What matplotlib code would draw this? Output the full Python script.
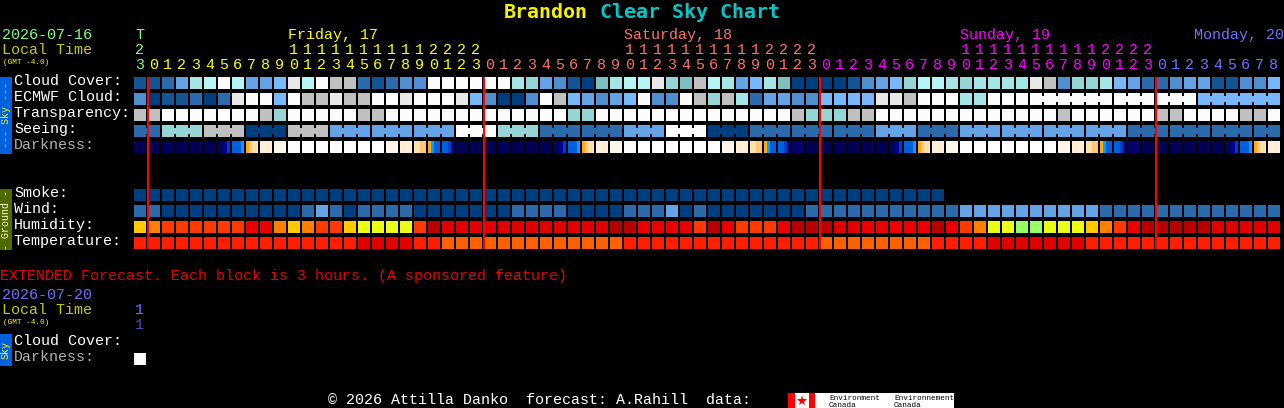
import matplotlib
matplotlib.use('Agg')
import matplotlib.pyplot as plt

# --- values, one entry per hour column ---
cloud_cover = [1, 1, 2, 4, 8, 9, 12, 9, 4, 4, 5, 11, 9, 12, 10, 10, 2, 1, 2, 3, 3,
               12, 12, 12, 12, 12, 12, 8, 7, 4, 3, 1, 0, 6, 8, 9, 9, 11, 7, 6, 10, 9, 8, 4, 5, 8, 6, 0, 0, 0, 0, 1,
               3, 4, 5, 7, 9, 9, 8, 7, 8, 8, 8, 8, 11, 10, 3, 7, 7, 8, 5, 4, 2, 2, 3, 4, 4, 1, 1, 3, 3, 5]
ecmwf_cloud = [3, 0, 1, 1, 2, 0, 2, 11, 12, 12, 5, 12, 10, 10, 11, 10, 10, 12, 12, 11, 12,
               12, 12, 11, 5, 3, 0, 0, 3, 12, 10, 5, 4, 3, 4, 5, 12, 3, 3, 12, 10, 7, 10, 8, 2, 4, 4, 3, 3, 5, 5, 5,
               5, 11, 11, 10, 12, 12, 12, 8, 8, 12, 12, 12, 12, 12, 12, 12, 12, 12, 12, 12, 12, 12, 12, 12, 5, 5, 5, 5, 5, 5]
transparency = [10, 10, 12, 12, 12, 12, 12, 12, 12, 10, 7, 12, 12, 12, 12, 12, 10, 10, 12, 12, 12,
                12, 12, 12, 12, 12, 12, 12, 12, 12, 12, 7, 7, 12, 12, 12, 12, 12, 12, 12, 12, 12, 12, 12, 12, 12, 12, 10, 7, 7, 7, 10,
                10, 12, 12, 12, 12, 12, 12, 12, 12, 12, 12, 12, 12, 12, 10, 12, 12, 12, 12, 12, 12, 10, 10, 12, 12, 12, 12, 10, 10, 12]
seeing = [2, 2, 7, 7, 7, 10, 10, 10, 0, 0, 0, 10, 10, 10, 4, 4, 4, 4, 4, 4, 4,
          4, 4, 12, 12, 12, 7, 7, 7, 2, 2, 2, 2, 2, 2, 4, 4, 4, 12, 12, 12, 0, 0, 0, 2, 2, 2, 2, 2, 2, 2, 2,
          2, 4, 4, 4, 2, 2, 2, 4, 4, 4, 4, 4, 4, 4, 4, 4, 4, 4, 4, 2, 2, 2, 2, 2, 2, 2, 2, 2, 2, 2]
smoke = [0] * 58
wind = [1, 1, 0, 0, 0, 0, 0, 0, 0, 0, 0, 0, 1, 2, 1, 0, 1, 1, 1, 1, 0,
        0, 0, 0, 0, 0, 0, 1, 1, 1, 1, 0, 0, 0, 0, 1, 1, 1, 2, 0, 1, 0, 0, 0, 0, 0, 0, 0, 1, 1, 1, 1,
        1, 1, 1, 1, 1, 1, 1, 2, 2, 2, 2, 2, 2, 2, 2, 2, 2, 1, 1, 1, 1, 1, 1, 1, 1, 1, 1, 1, 1, 1]
humidity = [5, 4, 3, 3, 3, 3, 3, 3, 2, 2, 4, 5, 4, 3, 3, 5, 6, 6, 6, 6, 3,
            0, 1, 1, 1, 1, 1, 1, 1, 1, 1, 1, 1, 1, 0, 0, 2, 2, 2, 2, 3, 0, 2, 3, 3, 3, 2, 0, 0, 0, 1, 1,
            2, 2, 2, 2, 2, 0, 2, 3, 4, 6, 6, 7, 7, 6, 6, 6, 5, 4, 3, 2, 0, 0, 0, 0, 0, 1, 1, 1, 1, 1]
temperature = [0, 0, 0, 0, 0, 0, 0, 0, 0, 0, 0, 0, 0, 0, 0, 0, 1, 1, 1, 1, 0,
               0, 2, 2, 2, 2, 2, 2, 2, 2, 2, 2, 2, 2, 2, 0, 0, 0, 0, 0, 0, 0, 0, 0, 0, 0, 0, 0, 0, 2, 2, 2,
               2, 2, 2, 2, 2, 0, 0, 0, 0, 1, 1, 1, 1, 1, 1, 1, 0, 0, 0, 0, 0, 0, 0, 0, 0, 0, 0, 0, 0, 0]
# darkness changes inside a block, so four samples per block (keys of dark_colors)
darkness = ['0000', '0000', '0000', '0000', '0000', '0000', '0123', '4445', '6788', '9999', 'aaaa', 'bbbb',
            'bbbb', 'bbbb', 'bbbb', 'bbbb', 'bbbb', 'bbbb', 'aaaa', '9999', '8877', '6544', '4432', '0000',
            '0000', '0000', '0000', '0000', '0000', '0000', '0123', '4445', '6788', '9999', 'aaaa', 'bbbb',
            'bbbb', 'bbbb', 'bbbb', 'bbbb', 'bbbb', 'bbbb', 'aaaa', '9999', '8877', '6544', '4432', '1111',
            '0000', '0000', '0000', '0000', '0000', '0000', '0123', '4445', '6788', '9999', 'aaaa', 'bbbb',
            'bbbb', 'bbbb', 'bbbb', 'bbbb', 'bbbb', 'bbbb', 'aaaa', '9999', '8877', '6544', '4432', '1111',
            '0000', '0000', '0000', '0000', '0000', '0000', '0123', '4445', '6788', '9999']
hours = [23] + list(range(24)) * 3 + list(range(9))
day_labels = ['Friday, 17', 'Saturday, 18', 'Sunday, 19', 'Monday, 20']
seeing_runs = [(0, 1), (2, 4), (5, 7), (8, 10), (11, 13), (14, 16), (17, 19), (20, 22), (23, 25), (26, 28),
               (29, 31), (32, 34), (35, 37), (38, 40), (41, 43), (44, 46), (47, 49), (50, 52), (53, 55),
               (56, 58), (59, 61), (62, 64), (65, 67), (68, 70), (71, 73), (74, 76), (77, 79), (80, 81)]
ecmwf_runs = [(64, 69), (70, 72), (73, 75), (76, 81)]
midnights = [0, 24, 48, 72]

# --- colours ---
sky_colors = ['#003f7f', '#135493', '#2b6aab', '#4f8ecf', '#63a3e6', '#77b7fa', '#7fbfbf', '#95d5d5',
              '#a5e5e5', '#b5f5f5', '#c0c0c0', '#e8e8e8', '#fcfcfc']
wind_colors = ['#003f7f', '#2b6aab', '#63a3e6']
hum_colors = ['#b80000', '#e00000', '#ea0000', '#ff3a00', '#ff8000', '#ffc800', '#eaff14', '#96ff64']
temp_colors = ['#ff1e00', '#e00000', '#ff6000']
dark_colors = {'0': '#000054', '1': '#000070', '2': '#000098', '3': '#0040c0', '4': '#0060e0', '5': '#00a0ff',
               '6': '#ffa820', '7': '#ffc870', '8': '#ffe0b0', '9': '#ffeed6', 'a': '#fff7ea', 'b': '#ffffff'}
GREEN = '#80ff80'
YELLOW = '#ffff00'
SALMON = '#ff7070'
MAGENTA = '#ff00ff'
SLATE = '#7070ff'
OLIVE_TEXT = '#c8c800'

plt.rcParams['font.family'] = ['Liberation Mono']
fig = plt.figure(figsize=(12.84, 4.08), dpi=100, facecolor='black')
ax = fig.add_axes([0, 0, 1, 1], facecolor='black')
ax.set_xlim(0, 1284)
ax.set_ylim(408, 0)
ax.axis('off')

X0 = 134
STEP = 14
CELL = 12
FS = 10.8  # about 9 px per character


def col_x(i):
    return X0 + STEP * i


def box(x, y, w, h, color, zorder=2):
    # whole pixel coordinates, snapping off so the fill lands exactly on the grid
    ax.bar(x, h, width=w, bottom=y, align='edge', color=color, linewidth=0, zorder=zorder, snap=False)


def draw_row(values, palette, y):
    for i, v in enumerate(values):
        box(col_x(i), y, CELL, CELL, palette[v])


def draw_bridges(values, palette, y, runs):
    # the thin link between blocks of one forecast step
    for first, last in runs:
        for i in range(first, last):
            box(col_x(i) + CELL, y + 3, STEP - CELL, 6, palette[values[i]])


draw_row(cloud_cover, sky_colors, 77)
draw_row(ecmwf_cloud, sky_colors, 93)
draw_bridges(ecmwf_cloud, sky_colors, 93, ecmwf_runs)
draw_row(transparency, sky_colors, 109)
draw_row(seeing, sky_colors, 125)
draw_bridges(seeing, sky_colors, 125, seeing_runs)
draw_row(smoke, sky_colors, 189)
draw_row(wind, wind_colors, 205)
draw_row(humidity, hum_colors, 221)
draw_row(temperature, temp_colors, 237)

# darkness blocks, 3 px per sample
for i, block in enumerate(darkness):
    for j, key in enumerate(block):
        box(col_x(i) + j * 3, 141, 3, CELL, dark_colors[key])

# midnight lines
for m in midnights:
    box(col_x(m) + 13, 77, 2, 172, '#ff0000', zorder=3)

# title
ax.text(504, 18, 'Brandon', color='#f4f000', fontsize=14.4, fontweight='bold', family='DejaVu Sans Mono')
ax.text(600, 18, 'Clear Sky Chart', color='#00c8c8', fontsize=14.4, fontweight='bold', family='DejaVu Sans Mono')

# header, left side
ax.text(2, 39, '2026-07-16', color=GREEN, fontsize=FS)
ax.text(2, 54, 'Local Time', color=OLIVE_TEXT, fontsize=FS)
ax.text(3, 64, '(GMT -4.0)', color=YELLOW, fontsize=5.6)

# hour digits
for i, h in enumerate(hours):
    if i == 0:
        c = GREEN
    elif i <= 24:
        c = YELLOW
    elif i <= 48:
        c = SALMON
    elif i <= 72:
        c = MAGENTA
    else:
        c = SLATE
    cx = col_x(i) + 5.5
    ax.text(cx, 69, str(h % 10), color=c, fontsize=FS, ha='center')
    if h >= 10:
        ax.text(cx, 54, str(h // 10), color=c, fontsize=FS, ha='center')
ax.text(col_x(0) + 5.5, 39, 'T', color=GREEN, fontsize=FS, ha='center')

ax.text(col_x(11), 39, day_labels[0], color=YELLOW, fontsize=FS)
ax.text(col_x(35), 39, day_labels[1], color=SALMON, fontsize=FS)
ax.text(col_x(59), 39, day_labels[2], color=MAGENTA, fontsize=FS)
ax.text(1194, 39, day_labels[3], color=SLATE, fontsize=FS)

# row labels
sky_labels = ['Cloud Cover:', 'ECMWF Cloud:', 'Transparency:', 'Seeing:']
for k, label in enumerate(sky_labels):
    ax.text(14, 85 + 16 * k, label, color='white', fontsize=FS)
ax.text(14, 149, 'Darkness:', color='#b0b0b0', fontsize=FS)
ground_labels = ['Smoke:', 'Wind:', 'Humidity:', 'Temperature:']
for k, label in enumerate(ground_labels):
    ax.text(14, 197 + 16 * k, label, color='white', fontsize=FS)

# side tabs
box(0, 77, 12, 77, '#0060e0')
ax.text(6, 115.5, '--- Sky ---', color=YELLOW, fontsize=7.2, rotation=90, ha='center', va='center')
box(0, 189, 12, 61, '#4f6a00')
ax.text(6, 219.5, '- Ground -', color='#ffffd8', fontsize=7.2, rotation=90, ha='center', va='center')

# extended forecast section
ax.text(0, 280, 'EXTENDED Forecast. Each block is 3 hours. (A sponsored feature)', color='#e80000', fontsize=FS)
ax.text(2, 299, '2026-07-20', color=SLATE, fontsize=FS)
ax.text(2, 314, 'Local Time', color=OLIVE_TEXT, fontsize=FS)
ax.text(3, 324, '(GMT -4.0)', color=YELLOW, fontsize=5.6)
ax.text(col_x(0) + 5.5, 314, '1', color=SLATE, fontsize=FS, ha='center')
ax.text(col_x(0) + 5.5, 329, '1', color=SLATE, fontsize=FS, ha='center', alpha=0.7)
ax.text(14, 345, 'Cloud Cover:', color='white', fontsize=FS)
ax.text(14, 361, 'Darkness:', color='#b0b0b0', fontsize=FS)
box(0, 334, 12, 32, '#0060e0')
ax.text(6, 350, 'Sky', color=YELLOW, fontsize=7.2, rotation=90, ha='center', va='center')
draw_row([12], sky_colors, 353)

# footer
ax.text(328, 404, '\u00a9 2026 Attilla Danko  forecast: A.Rahill  data:', color='white', fontsize=FS)
box(788, 393, 166, 15, 'white')
box(788, 393, 7, 15, '#ff0000', zorder=3)
box(809, 393, 6, 15, '#ff0000', zorder=3)
ax.plot([802], [400.5], marker='*', markersize=8, color='#ff0000', markeredgewidth=0, zorder=4)
ax.text(829, 400, 'Environment', color='black', fontsize=5.5, zorder=4)
ax.text(829, 407, 'Canada', color='black', fontsize=5.5, zorder=4)
ax.text(894, 400, 'Environnement', color='black', fontsize=5.5, zorder=4)
ax.text(894, 407, 'Canada', color='black', fontsize=5.5, zorder=4)

fig.savefig('out.png', dpi=100, facecolor='black')
